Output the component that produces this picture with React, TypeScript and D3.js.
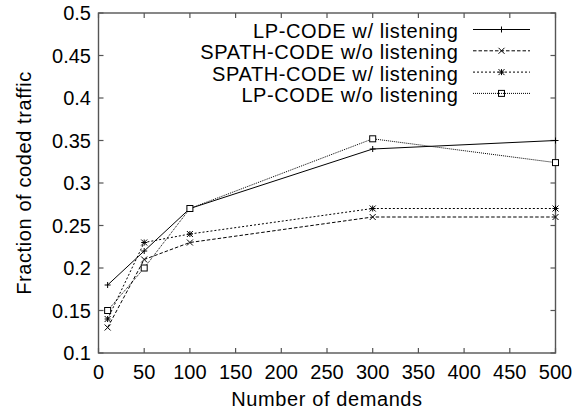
import * as d3 from 'd3'
import { useEffect, useRef } from 'react'

const demands = [10, 50, 100, 300, 500]
const lpWith = [0.18, 0.22, 0.27, 0.34, 0.35]
const spathWithout = [0.13, 0.21, 0.23, 0.26, 0.26]
const spathWith = [0.14, 0.23, 0.24, 0.27, 0.27]
const lpWithout = [0.15, 0.2, 0.27, 0.352, 0.324]

const xTicks = [0, 50, 100, 150, 200, 250, 300, 350, 400, 450, 500]
const yTicks = [0.1, 0.15, 0.2, 0.25, 0.3, 0.35, 0.4, 0.45, 0.5]

const series = [
	{ name: 'LP-CODE w/ listening', values: lpWith, dash: null, marker: 'plus' },
	{ name: 'SPATH-CODE w/o listening', values: spathWithout, dash: '3.5,2', marker: 'cross' },
	{ name: 'SPATH-CODE w/ listening', values: spathWith, dash: '2,2', marker: 'star' },
	{ name: 'LP-CODE w/o listening', values: lpWithout, dash: '1,1', marker: 'square' },
]

const W = 586
const H = 415
const left = 98.5
const right = 555.5
const top = 13
const bottom = 353

function drawMarker(g, type, x, y) {
	const s = 3
	if (type === 'plus' || type === 'star') {
		g.append('line').attr('x1', x - s).attr('x2', x + s).attr('y1', y).attr('y2', y)
		g.append('line').attr('x1', x).attr('x2', x).attr('y1', y - s).attr('y2', y + s)
	}
	if (type === 'cross' || type === 'star') {
		g.append('line').attr('x1', x - s).attr('x2', x + s).attr('y1', y - s).attr('y2', y + s)
		g.append('line').attr('x1', x - s).attr('x2', x + s).attr('y1', y + s).attr('y2', y - s)
	}
	if (type === 'square') {
		g.append('rect').attr('x', x - s).attr('y', y - s).attr('width', 2 * s).attr('height', 2 * s).attr('fill', '#fff')
	}
}

export default function App() {
	const svgRef = useRef(null)

	useEffect(() => {
		const svg = d3.select(svgRef.current)
		svg.selectAll('*').remove()

		const x = d3.scaleLinear().domain([0, 500]).range([left, right])
		const y = d3.scaleLinear().domain([0.1, 0.5]).range([bottom, top])
		const font = 'Liberation Sans, Arial, Helvetica, sans-serif'

		// ticks, mirrored on all four sides
		const tk = svg.append('g').attr('stroke', '#555').attr('stroke-width', 1.2)
		xTicks.forEach(t => {
			tk.append('line').attr('x1', x(t)).attr('x2', x(t)).attr('y1', bottom).attr('y2', bottom - 5)
			tk.append('line').attr('x1', x(t)).attr('x2', x(t)).attr('y1', top).attr('y2', top + 5)
		})
		yTicks.forEach(t => {
			tk.append('line').attr('x1', left).attr('x2', left + 5).attr('y1', y(t)).attr('y2', y(t))
			tk.append('line').attr('x1', right).attr('x2', right - 5).attr('y1', y(t)).attr('y2', y(t))
		})

		svg.append('rect')
			.attr('x', left).attr('y', top)
			.attr('width', right - left).attr('height', bottom - top)
			.attr('fill', 'none').attr('stroke', '#555').attr('stroke-width', 1.4)

		const labels = svg.append('g').attr('font-family', font).attr('font-size', 20).attr('fill', '#000')
		xTicks.forEach(t => {
			labels.append('text').attr('x', x(t)).attr('y', bottom + 26).attr('text-anchor', 'middle').text(t)
		})
		yTicks.forEach(t => {
			labels.append('text').attr('x', left - 7.5).attr('y', y(t) + 7).attr('text-anchor', 'end').text(d3.format('~g')(t))
		})
		const titles = labels.append('g').attr('letter-spacing', 0.6)
		titles.append('text').attr('x', (left + right) / 2).attr('y', 406).attr('text-anchor', 'middle').text('Number of demands')
		titles.append('text')
			.attr('transform', `translate(31,${(top + bottom) / 2}) rotate(-90)`)
			.attr('text-anchor', 'middle').text('Fraction of coded traffic')

		const line = d3.line().x(d => x(d[0])).y(d => y(d[1]))

		series.forEach((s, i) => {
			const pts = demands.map((d, j) => [d, s.values[j]])
			svg.append('path')
				.attr('d', line(pts))
				.attr('fill', 'none').attr('stroke', '#000').attr('stroke-width', 1)
				.attr('stroke-dasharray', s.dash)
			const mg = svg.append('g').attr('stroke', '#000').attr('stroke-width', 1)
			pts.forEach(p => drawMarker(mg, s.marker, x(p[0]), y(p[1])))

			// legend entry
			const ly = 29.5 + i * 21.3
			titles.append('text').attr('x', 458.5).attr('y', ly + 8.5).attr('text-anchor', 'end').text(s.name)
			svg.append('line')
				.attr('x1', 473).attr('x2', 530).attr('y1', ly).attr('y2', ly)
				.attr('stroke', '#000').attr('stroke-width', 1).attr('stroke-dasharray', s.dash)
			drawMarker(mg, s.marker, 501.5, ly)
		})
	}, [])

	return <svg ref={svgRef} width={W} height={H} style={{ display: 'block', position: 'absolute', left: 0, top: 0, background: '#fff' }} />
}
